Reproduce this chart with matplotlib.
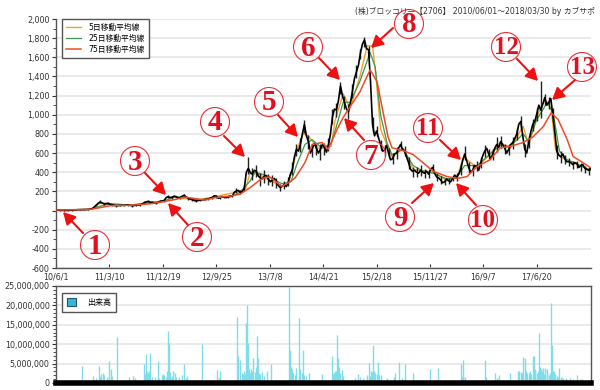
import matplotlib
matplotlib.use('AGG')
import matplotlib.pyplot as plt
from matplotlib.patches import Circle

plt.rcParams['font.family'] = ['DejaVu Sans', 'Noto Sans CJK JP']

# values, x is trading day number
close_step = 15
close = [5, 3, 0, 2, 3, 8, 10, 10, 12, 18, 55, 90, 70, 75, 60, 50, 55, 55, 60, 50,
         55, 60, 80, 95, 85, 75, 95, 105, 145, 140, 145, 135, 160, 130, 115, 100, 110, 115, 120, 135,
         150, 135, 140, 145, 150, 205, 190, 230, 440, 380, 410, 340, 360, 330, 320, 300, 240, 270, 300, 430,
         640, 690, 900, 720, 650, 650, 640, 660, 680, 980, 1050, 1300, 1130, 1030, 1250, 1450, 1650, 1780, 1680, 900,
         830, 690, 630, 600, 540, 600, 690, 620, 500, 410, 400, 420, 390, 380, 450, 350, 320, 300, 310, 335,
         350, 430, 590, 450, 420, 460, 500, 620, 590, 590, 690, 720, 650, 640, 710, 800, 930, 640, 720, 900,
         1010, 1050, 1180, 1130, 1000, 620, 560, 540, 510, 480, 490, 470, 440, 420, 410]
# one more reading between each pair of the values above
close_mid = [4, 1, 1, 2, 6, 9, 10, 11, 15, 35, 75, 80, 72, 66, 55, 52, 55, 58, 54, 52,
             58, 70, 90, 88, 80, 85, 100, 135, 135, 150, 128, 150, 140, 120, 105, 105, 112, 118, 130, 155,
             128, 145, 135, 155, 190, 210, 200, 400, 395, 420, 360, 330, 365, 300, 335, 260, 255, 250, 380, 560,
             620, 800, 780, 600, 700, 600, 690, 610, 800, 1060, 1150, 1200, 1060, 1130, 1380, 1520, 1740, 1690, 1350, 780,
             760, 620, 680, 530, 590, 650, 640, 560, 430, 420, 390, 400, 410, 430, 390, 340, 290, 330, 300, 370,
             380, 520, 520, 400, 470, 420, 570, 650, 540, 650, 660, 690, 600, 690, 750, 900, 780, 600, 820, 930,
             1100, 1110, 1100, 1170, 820, 580, 590, 510, 500, 500, 450, 480, 430, 440]
wick_up = [4, 4, 4, 4, 4, 4, 4, 4, 4, 6, 15, 20, 12, 10, 8, 8, 8, 8, 8, 8,
           8, 10, 15, 10, 10, 10, 10, 15, 20, 15, 12, 12, 15, 12, 10, 10, 10, 10, 12, 20,
           15, 10, 10, 10, 10, 30, 20, 50, 120, 60, 70, 50, 60, 50, 50, 40, 40, 40, 50, 80,
           60, 70, 50, 70, 50, 50, 50, 50, 80, 80, 70, 40, 70, 80, 70, 70, 40, 30, 40, 80,
           50, 50, 50, 50, 60, 60, 40, 50, 60, 40, 50, 60, 40, 40, 40, 40, 40, 30, 30, 30,
           40, 60, 80, 60, 60, 60, 60, 60, 50, 50, 80, 60, 50, 50, 60, 60, 60, 60, 60, 60,
           60, 300, 40, 60, 70, 60, 60, 40, 40, 40, 30, 30, 30, 30, 30]
wick_down = [4, 4, 4, 4, 4, 4, 4, 4, 4, 5, 10, 15, 12, 10, 8, 8, 8, 8, 12, 8,
             8, 10, 10, 10, 10, 10, 10, 12, 15, 15, 12, 12, 15, 15, 15, 10, 10, 10, 12, 15,
             15, 10, 10, 10, 10, 20, 20, 30, 60, 60, 60, 80, 70, 60, 60, 60, 40, 40, 40, 60,
             70, 80, 90, 80, 90, 70, 110, 80, 60, 80, 70, 80, 70, 70, 70, 70, 70, 70, 90, 80,
             50, 60, 60, 50, 50, 60, 50, 50, 70, 60, 50, 60, 50, 40, 40, 40, 40, 30, 30, 30,
             40, 60, 60, 60, 60, 50, 60, 60, 50, 60, 80, 70, 60, 60, 70, 60, 80, 80, 70, 70,
             80, 80, 80, 70, 80, 80, 60, 50, 50, 50, 50, 60, 50, 50, 50]

ma5_day = [0, 127, 165, 202, 277, 352, 408, 446, 521, 595, 689, 710, 727, 745, 783, 846, 869, 885, 900, 925, 945, 980,
           1030, 1045, 1075, 1101, 1138, 1165, 1185, 1198, 1215, 1240, 1258, 1300, 1337, 1412, 1464, 1502, 1525, 1577, 1625,
           1663, 1700, 1749, 1770, 1800, 1830, 1854, 1870, 1880, 1914, 1950, 2000]
ma5 = [5, 11, 75, 72, 55, 85, 100, 145, 105, 145, 200, 230, 400, 400, 340, 250, 280, 420, 620, 800, 780, 650,
       670, 940, 1220, 1070, 1400, 1720, 1720, 1400, 850, 680, 560, 650, 430, 400, 310, 345, 560, 450, 590,
       710, 650, 880, 680, 980, 1160, 1060, 640, 580, 520, 480, 425]

ma25_day = [0, 127, 165, 202, 277, 352, 408, 446, 483, 521, 558, 595, 652, 689, 727, 746, 783, 846, 880, 900, 932, 959, 996,
            1030, 1052, 1075, 1101, 1138, 1176, 1195, 1215, 1240, 1258, 1300, 1337, 1374, 1412, 1464, 1502, 1530, 1577, 1625,
            1663, 1700, 1749, 1770, 1800, 1840, 1862, 1885, 1914, 1950, 2000]
ma25 = [5, 12, 45, 70, 57, 80, 105, 140, 145, 115, 110, 140, 140, 190, 310, 400, 370, 280, 300, 470, 690, 740, 650,
        700, 900, 1130, 1130, 1350, 1650, 1500, 1000, 700, 580, 640, 470, 410, 390, 330, 350, 470, 470, 590,
        680, 670, 800, 720, 950, 1130, 1010, 620, 530, 490, 420]

ma75_day = [0, 127, 165, 202, 277, 352, 408, 446, 483, 521, 558, 595, 652, 689, 727, 764, 783, 801, 846, 869, 895, 932, 959,
            996, 1019, 1052, 1075, 1101, 1138, 1176, 1202, 1225, 1243, 1258, 1300, 1337, 1374, 1412, 1464, 1502, 1539, 1577,
            1625, 1663, 1700, 1749, 1786, 1824, 1854, 1880, 1914, 1936, 2000]
ma75 = [5, 12, 30, 50, 55, 70, 95, 115, 140, 125, 110, 135, 150, 170, 240, 320, 345, 350, 250, 290, 340, 500, 690,
        710, 640, 845, 970, 1085, 1240, 1470, 1345, 1020, 770, 655, 625, 585, 500, 410, 355, 335, 355, 460,
        530, 655, 670, 710, 770, 875, 1020, 950, 740, 565, 450]

volume_day = [97, 139, 161, 176, 198, 206, 228, 288, 330, 337, 352, 382, 401, 419, 423, 438, 479, 547, 603, 614,
              678, 682, 689, 712, 715, 719, 738, 753, 756, 790, 805, 873, 876, 888, 910, 925, 947, 996, 1034, 1052,
              1056, 1071, 1131, 1172, 1187, 1206, 1270, 1285, 1307, 1337, 1401, 1431, 1517, 1524, 1607, 1644, 1749, 1756, 1786, 1790,
              1809, 1824, 1831, 1854, 1858, 1884, 1951,
              150, 170, 190, 210, 275, 295, 340, 345, 360, 395, 410, 430, 445, 460, 490, 610, 700, 725, 730, 745,
              765, 780, 880, 895, 915, 935, 1040, 1045, 1060, 1065, 1120, 1140, 1150, 1165, 1180, 1195, 1215, 1240, 1265, 1295,
              1525, 1530, 1610, 1650, 1660, 1700, 1730, 1740, 1765, 1775, 1795, 1800, 1815, 1840, 1845, 1865, 1870, 1890, 1900, 1925, 1970,
              165, 180, 200, 335, 350, 370, 385, 405, 415, 428, 434, 450, 470, 485, 695, 705, 708, 722, 735, 750,
              760, 770, 885, 900, 920, 930, 1038, 1048, 1063, 1075, 1175, 1183, 1190, 1200, 1210, 1520, 1735, 1745, 1760, 1770,
              1780, 1793, 1805, 1813, 1820, 1828, 1838, 1850, 1862, 1868, 1875, 1880, 1895, 1910, 1935, 1960]
volume = [4.5, 1.7, 4.3, 2.6, 5.6, 3.6, 11.8, 1.9, 5.0, 7.5, 7.7, 5.6, 2.4, 13.3, 10.3, 3.0, 5.0, 10.0, 3.3, 3.0,
          17.1, 6.9, 6.0, 15.4, 20.0, 10.3, 6.4, 12.2, 6.5, 3.0, 5.0, 24.7, 8.6, 2.6, 16.7, 8.6, 2.7, 2.4, 7.0, 12.4,
          6.4, 3.4, 2.4, 5.1, 9.8, 5.3, 2.6, 5.4, 5.0, 2.7, 3.6, 3.9, 5.0, 6.0, 5.8, 2.7, 6.7, 6.4, 6.9, 7.0,
          13.0, 3.9, 3.9, 20.5, 9.8, 3.9, 2.1,
          1.2, 2.2, 1.5, 1.8, 1.5, 1.4, 3.0, 2.5, 1.5, 2.0, 1.5, 1.4, 2.5, 1.6, 1.8, 1.2, 2.2, 2.5, 3.5, 2.8,
          2.2, 1.8, 4.2, 2.0, 3.5, 1.8, 2.5, 3.0, 4.0, 2.2, 1.2, 1.6, 1.2, 2.0, 3.0, 2.5, 2.0, 1.2, 1.5, 1.4,
          1.8, 1.5, 1.5, 1.2, 2.0, 2.5, 3.0, 2.8, 2.5, 3.2, 3.0, 2.6, 3.5, 2.8, 2.0, 3.0, 1.8, 1.5, 1.2, 1.2, 1.0,
          1.5, 2.0, 1.3, 2.2, 3.0, 1.5, 1.4, 2.0, 3.2, 2.8, 1.8, 1.5, 2.0, 1.2, 2.5, 3.0, 2.4, 3.5, 3.0, 4.0,
          2.5, 2.8, 3.5, 3.8, 2.5, 2.0, 2.5, 3.0, 2.5, 1.8, 1.8, 2.8, 3.0, 2.2, 2.0, 1.5, 3.2, 2.5, 3.0, 2.6,
          2.4, 3.5, 3.0, 4.0, 3.0, 2.2, 3.6, 2.6, 3.0, 2.4, 1.8, 1.6, 1.4, 1.2, 1.0, 1.0]

x_tick_days = [0, 200, 400, 600, 800, 1000, 1200, 1400, 1600, 1800]
x_tick_labels = ['10/6/1', '11/3/10', '11/12/19', '12/9/25', '13/7/8',
                 '14/4/21', '15/2/18', '15/11/27', '16/9/7', '17/6/20']
price_ticks = [-600, -400, -200, 200, 400, 600, 800, 1000, 1200, 1400, 1600, 1800, 2000]
volume_ticks = [0, 5, 10, 15, 20, 25]

# circled number labels: text, circle centre, arrow tail, arrow tip (in picture pixels)
notes = [('1', (95, 245), (83, 233), (63, 212)),
         ('2', (197, 237), (188, 225), (168, 203)),
         ('3', (135, 161), (145, 173), (166, 195)),
         ('4', (215, 122), (224, 136), (245, 157)),
         ('5', (269, 102), (278, 115), (298, 137)),
         ('6', (308, 47), (319, 58), (340, 80)),
         ('7', (371, 155), (364, 140), (344, 118)),
         ('8', (409, 24), (393, 28), (371, 48)),
         ('9', (400, 217), (412, 203), (434, 183)),
         ('10', (483, 220), (476, 205), (456, 183)),
         ('11', (428, 128), (440, 140), (461, 160)),
         ('12', (506, 47), (517, 59), (538, 81)),
         ('13', (582, 67), (575, 80), (552, 100))]

fig = plt.figure(figsize=(6, 3.9), dpi=100)
W, H = 600, 390
ax = fig.add_axes([56 / W, 1 - 268 / H, 535 / W, 249 / H])
ax2 = fig.add_axes([56 / W, 1 - 383 / H, 535 / W, 97 / H])

frame = '#555555'
grid = '#e6e6e6'

# price chart
days = [i * close_step for i in range(len(close))]
high = [c + w for c, w in zip(close, wick_up)]
low = [c - w for c, w in zip(close, wick_down)]
line_days = []
line_close = []
for i, c in enumerate(close):
    line_days.append(days[i])
    line_close.append(c)
    if i < len(close_mid):
        line_days.append(days[i] + close_step / 2)
        line_close.append(close_mid[i])
ax.set_axisbelow(True)
ax.grid(axis='y', color=grid, lw=1.2)
ax.plot(ma5_day, ma5, color='#f0a030', lw=1.0, zorder=2, label='5日移動平均線')
ax.plot(ma25_day, ma25, color='#3c9a50', lw=0.9, zorder=2, label='25日移動平均線')
ax.vlines(days, low, high, color='#222222', lw=1.0, zorder=3)
ax.plot(line_days, line_close, color='black', lw=1.2, zorder=3)
ax.plot(ma75_day, ma75, color='#f04a28', lw=1.1, zorder=5, label='75日移動平均線')
ax.set_xlim(0, 2003)
ax.set_ylim(-600, 2000)
ax.set_yticks(price_ticks + [0])
ax.set_yticklabels([f'{t:,}' for t in price_ticks] + [''])
ax.set_yticks(range(-500, 2000, 100), minor=True)
ax.set_xticks(x_tick_days)
ax.set_xticklabels(x_tick_labels)
ax.tick_params(axis='both', labelsize=5.8, colors='#333333', length=3, pad=1.5, width=0.8)
ax.tick_params(axis='x', direction='in', pad=3)
ax.tick_params(axis='y', which='minor', length=2, width=0.6, color='#333333')
for side in ['top', 'right']:
    ax.spines[side].set_visible(False)
for side in ['left', 'bottom']:
    ax.spines[side].set_color(frame)
    ax.spines[side].set_linewidth(1.0)
leg = ax.legend(loc='upper left', bbox_to_anchor=(6 / 535, 1.0), borderaxespad=0, fontsize=5.6,
                fancybox=False, framealpha=1, edgecolor=frame, handlelength=2.0, labelspacing=0.3,
                borderpad=0.45, handletextpad=1.0)
leg.get_frame().set_linewidth(1.0)

# volume chart
ax2.set_axisbelow(True)
ax2.grid(axis='y', color=grid, lw=1.2)
ax2.vlines(volume_day, 0, [v * 1e6 for v in volume], color='#7fdcea', lw=1.0, label='出来高')
ax2.axhline(0, color='black', lw=4, zorder=4, clip_on=False)
ax2.set_xlim(0, 2003)
ax2.set_ylim(0, 25e6)
ax2.set_yticks([t * 1e6 for t in volume_ticks])
ax2.set_yticklabels([f'{t * 1000000:,}' for t in volume_ticks])
ax2.set_yticks([t * 1e6 for t in range(1, 25)], minor=True)
ax2.set_xticks([])
ax2.tick_params(axis='y', labelsize=5.8, colors='#333333', length=3, pad=1.5, width=0.8)
ax2.tick_params(axis='y', which='minor', length=2, width=0.6, color='#333333')
for spine in ax2.spines.values():
    spine.set_color(frame)
    spine.set_linewidth(1.0)
handle = plt.Rectangle((0, 0), 1, 1, facecolor='#3bb4dc', edgecolor='#225566', lw=0.8)
leg2 = ax2.legend([handle], ['出来高'], loc='upper left', bbox_to_anchor=(6 / 535, 1 - 7 / 97), borderaxespad=0,
                  fontsize=5.8, fancybox=False, framealpha=1, edgecolor=frame, handlelength=1.1, handleheight=1.2,
                  borderpad=0.6, handletextpad=1.4)
leg2.get_frame().set_linewidth(1.0)

# overlay for the hand drawn notes
over = fig.add_axes([0, 0, 1, 1])
over.set_xlim(0, W)
over.set_ylim(H, 0)
over.axis('off')
over.text(595, 11, '(株)ブロッコリー【2706】 2010/06/01～2018/03/30 by カブサポ', ha='right', va='center',
          fontsize=5.6, color='#333333')
for label, centre, tail, tip in notes:
    over.add_patch(Circle(centre, 14.5, fill=False, edgecolor='#e8303a', lw=0.8))
    size = 21 if len(label) == 1 else 18
    # baseline centring sits low, nudge the digit up
    over.text(centre[0], centre[1] - 2, label, ha='center', va='center_baseline', fontsize=size, color='#e01020',
              family='Liberation Serif', fontweight='bold')
    over.annotate('', xy=tip, xytext=tail,
                  arrowprops=dict(arrowstyle='-|>,head_length=0.55,head_width=0.3', color='#ee1111', lw=1.5,
                                  shrinkA=0, shrinkB=0, mutation_scale=13))

plt.savefig('out.png', dpi=100)
